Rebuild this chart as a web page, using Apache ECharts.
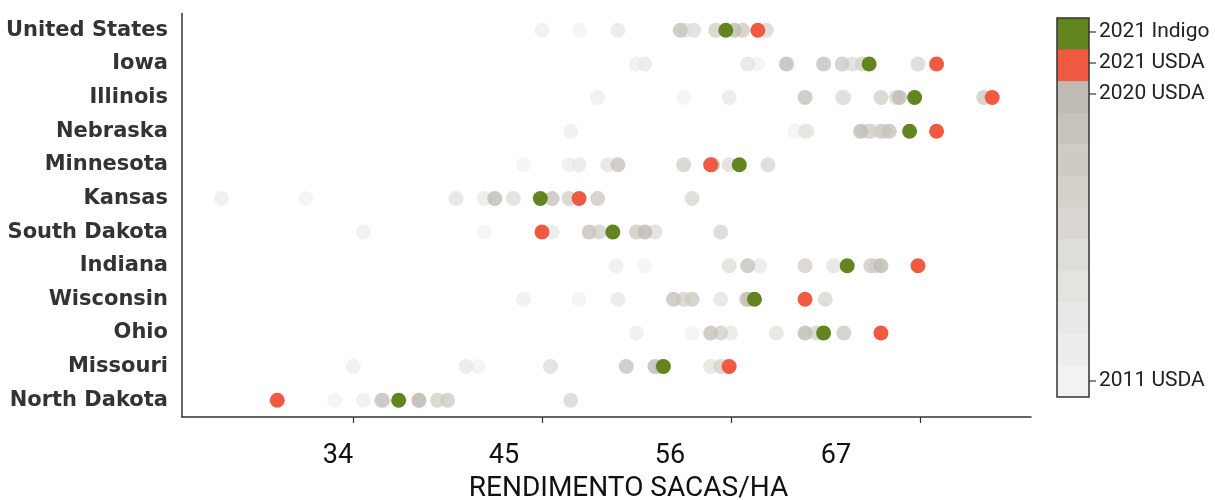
<!DOCTYPE html>
<html><head><meta charset="utf-8">
<script src="https://cdn.jsdelivr.net/npm/echarts@6/dist/echarts.min.js"></script>
<style>html,body{margin:0;padding:0;background:#fff}#c{width:1215px;height:500px}</style>
</head><body><div id="c"></div>
<script>
// ---- data (sacas/ha) ----
const states = ['United States','Iowa','Illinois','Nebraska','Minnesota','Kansas','South Dakota','Indiana','Wisconsin','Ohio','Missouri','North Dakota'];
const historyYears = [2011,2012,2013,2014,2015,2016,2017,2018,2019,2020];
const usda2011 = [47.0, 57.6, 53.2, 59.8, 43.7, 30.8, 41.4, 50.9, 47.0, 53.7, 41.0, 32.5];
const usda2012 = [44.8, 50.4, 48.1, 46.5, 46.4, 25.8, 34.2, 49.2, 43.7, 50.4, 33.6, 34.2];
const usda2013 = [49.3, 50.9, 55.9, 60.4, 47.0, 41.4, 45.4, 57.7, 49.3, 56.0, 40.3, 36.3];
const usda2014 = [53.3, 57.0, 62.6, 60.5, 48.7, 39.7, 49.0, 62.1, 55.4, 58.7, 54.8, 35.4];
const usda2015 = [53.8, 63.2, 62.7, 64.1, 55.9, 43.1, 51.5, 55.9, 56.9, 61.0, 45.3, 37.5];
const usda2016 = [58.1, 67.1, 65.8, 65.1, 58.2, 53.7, 55.4, 64.6, 61.6, 61.2, 55.8, 46.5];
const usda2017 = [55.1, 63.8, 64.9, 64.3, 53.2, 46.4, 48.2, 60.4, 53.2, 55.4, 55.4, 38.6];
const usda2018 = [56.7, 62.6, 71.0, 64.9, 54.9, 48.1, 50.4, 64.3, 53.7, 62.7, 51.9, 39.2];
const usda2019 = [53.0, 61.5, 60.4, 65.4, 49.3, 45.4, 47.6, 57.0, 52.6, 54.8, 49.8, 35.3];
const usda2020 = [56.2, 59.3, 66.0, 63.7, 54.9, 42.0, 50.9, 64.9, 57.0, 60.4, 51.5, 37.5];
const usda2021 = [57.6, 68.2, 71.5, 68.2, 54.8, 47.0, 44.8, 67.1, 60.4, 64.9, 55.9, 29.1];
const indigo2021 = [55.7, 64.2, 66.9, 66.6, 56.5, 44.7, 49.0, 62.9, 57.4, 61.5, 52.0, 36.3];
const xTickValues = [33.62, 44.83, 56.04, 67.25];
const xTickLabels = [34, 45, 56, 67];
const xTitle = 'RENDIMENTO SACAS/HA';
const legendLabels = ['2021 Indigo','2021 USDA','2020 USDA','2011 USDA'];

// ---- styles ----
const historyColors = ['#f2f2f2','#eeedec','#e9e8e6','#e4e3e0','#dfddd9','#dad7d2','#d4d1cb','#cecac4','#c7c3bd','#bfbbb4'];
const colorIndigo = '#638520';
const colorUsda21 = '#f15a42';
const axisColor = '#333333';

const historyByYear = [usda2011,usda2012,usda2013,usda2014,usda2015,usda2016,usda2017,usda2018,usda2019,usda2020];
const historyData = [];
historyByYear.forEach((arr, k) => arr.forEach((v, i) => historyData.push([v, states[i], historyYears[k]])));
const usdaData = usda2021.map((v, i) => [v, states[i]]);
const indigoData = indigo2021.map((v, i) => [v, states[i]]);

// colourbar legend (layout only)
const barX = 1057, barW = 32, barTop = 18, barBottom = 397;
const segColors = [colorIndigo, colorUsda21].concat(historyColors.slice().reverse());
const segH = (barBottom - barTop) / segColors.length;
const labelY = [32, 63, 94, 381];
const graphic = [];
segColors.forEach((c, i) => graphic.push({type:'rect', silent:true, shape:{x:barX, y:barTop + i * segH, width:barW, height:segH + 0.5}, style:{fill:c}}));
graphic.push({type:'rect', silent:true, shape:{x:barX, y:barTop, width:barW, height:barBottom - barTop}, style:{fill:'none', stroke:axisColor, lineWidth:1.5}});
legendLabels.forEach((t, i) => {
  graphic.push({type:'line', silent:true, shape:{x1:barX+barW, y1:labelY[i], x2:barX+barW+7, y2:labelY[i]}, style:{stroke:axisColor, lineWidth:1.2}});
  graphic.push({type:'text', silent:true, x:barX+barW+10, y:labelY[i], style:{text:t, fill:'#222', font:'21px Roboto', textVerticalAlign:'middle', textAlign:'left'}});
});

const chart = echarts.init(document.getElementById('c'), null, {renderer:'canvas'});
chart.setOption({
  animation:false,
  backgroundColor:'#fff',
  grid:{left:182, right:184, top:13.5, bottom:83, outerBoundsMode:'none', containLabel:false},
  xAxis:[
    {type:'value', min:23.45, max:73.80, position:'bottom',
     axisLine:{show:true, onZero:false, lineStyle:{color:axisColor, width:1.5}},
     axisTick:{show:true, customValues:xTickValues, length:6, lineStyle:{color:axisColor, width:1.2}},
     axisLabel:{show:false}, splitLine:{show:false}},
    {type:'value', min:23.66, max:79.92, position:'bottom',
     axisLine:{show:false}, axisTick:{show:false}, splitLine:{show:false},
     axisLabel:{customValues:xTickLabels, fontSize:27, fontFamily:'Roboto', color:'#111', margin:26},
     name:xTitle, nameLocation:'middle', nameGap:56,
     nameTextStyle:{fontSize:28, fontFamily:'Roboto', color:'#111', padding:[0,0,0,44]}}
  ],
  yAxis:{type:'category', data:states, inverse:true,
    axisLine:{lineStyle:{color:axisColor, width:1.5}},
    axisTick:{alignWithLabel:true, length:6, lineStyle:{color:axisColor, width:1.2}},
    axisLabel:{fontFamily:'DejaVu Sans', fontWeight:'bold', fontSize:21, color:'#333', margin:14},
    splitLine:{show:false}},
  visualMap:{type:'piecewise', show:false, seriesIndex:0, dimension:2,
    pieces:historyYears.map((y, k) => ({value:y, color:historyColors[k]}))},
  series:[
    {name:'USDA', type:'scatter', xAxisIndex:0, symbolSize:15, data:historyData, encode:{x:0, y:1}},
    {name:'2021 USDA', type:'scatter', xAxisIndex:0, symbolSize:15, data:usdaData, itemStyle:{color:colorUsda21, opacity:1}},
    {name:'2021 Indigo', type:'scatter', xAxisIndex:0, symbolSize:15, data:indigoData, itemStyle:{color:colorIndigo, opacity:1}}
  ],
  graphic:graphic
});
</script></body></html>
